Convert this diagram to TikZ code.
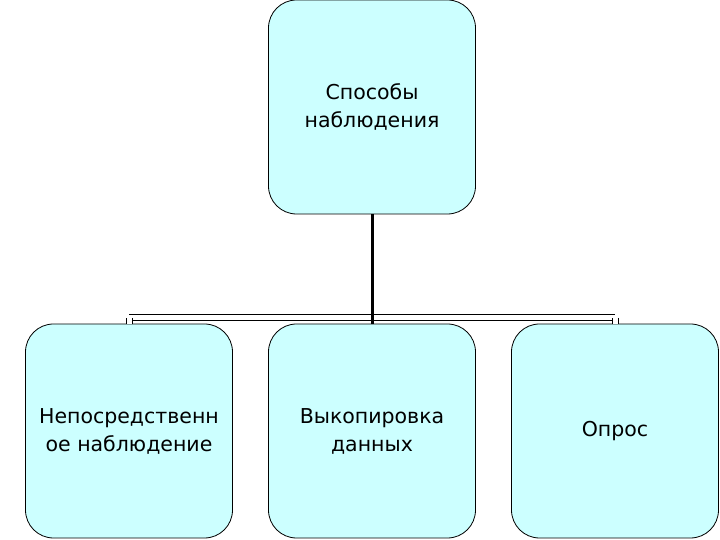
\documentclass[tikz,border=0pt]{standalone}
\usepackage{fontspec}
\setmainfont{DejaVu Sans}
\definecolor{boxfill}{HTML}{CCFFFF}
\begin{document}
\begin{tikzpicture}[x=1pt,y=1pt,
  box/.style={draw=black,line width=0.8pt,fill=boxfill,rounded corners=28pt,minimum width=207pt,minimum height=214pt,inner sep=0pt,align=center,font=\fontsize{20.5}{28}\selectfont},
  conn/.style={draw=black,line width=1pt,double=white,double distance=5pt}]
\useasboundingbox (0,0) rectangle (720,540);
\node[box] (top) at (372,433) {Способы\\наблюдения};
\node[box] (b1) at (129,109) {Непосредственн\\ое наблюдение};
\node[box] (b2) at (372,109) {Выкопировка\\данных};
\node[box] (b3) at (615,109) {Опрос};
\coordinate (h1) at (129,222);
\coordinate (h3) at (615,222);
\draw[conn] (h1) -- (h3);
\draw[conn] (h1) -- (b1.north);
\draw[conn] (h3) -- (b3.north);
\draw[black,line width=3pt] (top.south) -- (b2.north);
\end{tikzpicture}
\end{document}
